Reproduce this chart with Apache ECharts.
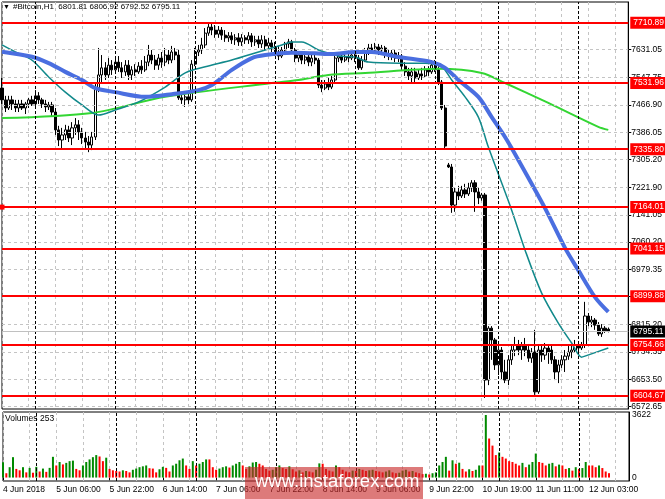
<!DOCTYPE html>
<html><head><meta charset="utf-8">
<script src="https://cdn.jsdelivr.net/npm/echarts@6/dist/echarts.min.js"></script>
<style>html,body{margin:0;padding:0;background:#fff}#c{width:665px;height:499px}</style>
</head><body><div id="c"></div>
<script>
const symbolName = '#Bitcoin,H1';
const barCount = 189;
const timeLabels = ['4 Jun 2018','5 Jun 06:00','5 Jun 22:00','6 Jun 14:00','7 Jun 06:00','7 Jun 22:00','8 Jun 14:00','9 Jun 06:00','9 Jun 22:00','10 Jun 19:00','11 Jun 11:00','12 Jun 03:00'];
const labelBars = [0,16,32,48,64,80,96,112,128,144,160,176];
const daySeparators = [10,34,58,82,106,130,149,173];
const priceTicks = [7631.05,7547.75,7466.90,7386.05,7305.20,7221.90,7141.05,7060.20,6979.35,6898.50,6815.20,6734.35,6653.50,6572.65];
const levels = [7710.89,7531.96,7335.80,7164.01,7041.15,6899.88,6754.66,6604.67];
const selectedLevel = 7164.01;
// [open, close, low, high]
const ohlc = [
[7517,7482,7470,7547],[7482,7458,7446,7494],[7458,7482,7452,7494],[7482,7470,7452,7494],[7470,7458,7446,7482],
[7458,7470,7446,7482],[7470,7458,7452,7482],[7458,7470,7440,7476],[7470,7482,7458,7488],[7482,7470,7464,7494],
[7470,7494,7464,7511],[7494,7482,7470,7505],[7482,7470,7458,7488],[7470,7461,7446,7482],[7461,7467,7452,7476],
[7467,7446,7434,7476],[7446,7393,7378,7458],[7393,7363,7345,7405],[7363,7378,7339,7399],[7378,7393,7363,7408],
[7393,7369,7357,7405],[7369,7399,7348,7416],[7399,7408,7378,7428],[7408,7387,7363,7422],[7387,7369,7351,7399],
[7369,7357,7339,7387],[7357,7348,7327,7375],[7348,7372,7333,7387],[7372,7517,7363,7529],[7517,7556,7505,7636],
[7556,7577,7535,7615],[7577,7556,7541,7594],[7556,7585,7547,7606],[7585,7571,7556,7600],[7571,7594,7559,7606],
[7594,7577,7565,7612],[7577,7565,7547,7594],[7565,7585,7553,7600],[7585,7556,7541,7600],[7556,7571,7541,7582],
[7571,7565,7553,7588],[7565,7582,7559,7594],[7582,7571,7559,7600],[7571,7594,7565,7612],[7594,7615,7582,7645],
[7615,7600,7588,7630],[7600,7585,7571,7615],[7585,7606,7571,7618],[7606,7594,7577,7624],[7594,7615,7582,7636],
[7615,7600,7588,7630],[7600,7624,7591,7642],[7624,7615,7600,7636],[7615,7488,7482,7630],[7488,7482,7470,7499],
[7482,7491,7461,7499],[7491,7482,7470,7505],[7482,7588,7476,7600],[7588,7624,7582,7636],[7624,7630,7612,7645],
[7630,7645,7618,7666],[7645,7680,7636,7695],[7680,7698,7672,7713],[7698,7689,7674,7710],[7689,7677,7666,7704],
[7677,7689,7666,7701],[7689,7674,7660,7698],[7674,7666,7654,7689],[7666,7672,7654,7683],[7672,7660,7648,7683],
[7660,7666,7645,7677],[7666,7654,7642,7680],[7654,7666,7642,7677],[7666,7660,7648,7674],[7660,7672,7648,7683],
[7672,7654,7639,7680],[7654,7660,7642,7672],[7660,7648,7636,7672],[7648,7660,7636,7674],[7660,7642,7630,7672],
[7642,7651,7630,7666],[7651,7639,7624,7660],[7639,7624,7612,7654],[7624,7612,7600,7642],[7612,7630,7606,7639],
[7630,7648,7618,7654],[7648,7654,7636,7663],[7654,7630,7618,7660],[7630,7606,7594,7636],[7606,7615,7594,7624],
[7615,7600,7588,7624],[7600,7609,7588,7621],[7609,7594,7582,7618],[7594,7606,7582,7618],[7606,7600,7588,7618],
[7600,7526,7517,7606],[7526,7517,7505,7541],[7517,7529,7511,7541],[7529,7520,7511,7547],[7520,7541,7514,7553],
[7541,7606,7535,7621],[7606,7612,7594,7624],[7612,7600,7591,7624],[7600,7609,7594,7621],[7609,7606,7594,7618],
[7606,7615,7600,7624],[7615,7606,7594,7624],[7606,7577,7571,7615],[7577,7600,7571,7612],[7600,7624,7594,7636],
[7624,7636,7615,7648],[7636,7630,7618,7648],[7630,7639,7621,7651],[7639,7630,7615,7648],[7630,7636,7618,7645],
[7636,7618,7606,7642],[7618,7612,7600,7630],[7612,7621,7600,7630],[7621,7606,7594,7630],[7606,7612,7594,7624],
[7612,7582,7571,7618],[7582,7565,7553,7594],[7565,7553,7541,7577],[7553,7565,7535,7577],[7565,7547,7535,7577],
[7547,7559,7541,7571],[7559,7553,7541,7577],[7553,7571,7547,7582],[7571,7565,7553,7582],[7565,7585,7559,7600],
[7585,7571,7565,7600],[7571,7535,7526,7582],[7535,7458,7452,7541],[7458,7345,7339,7467],[7289,7283,7280,7295],
[7283,7170,7147,7292],[7170,7209,7150,7221],[7209,7197,7185,7227],[7197,7215,7191,7227],[7215,7203,7191,7233],
[7203,7221,7197,7236],[7221,7236,7209,7244],[7236,7209,7150,7244],[7209,7191,7173,7221],[7191,7200,7183,7206],
[7200,6651,6598,7206],[6651,6805,6636,6811],[6805,6770,6711,6811],[6770,6696,6681,6776],[6696,6740,6666,6755],
[6740,6675,6651,6749],[6675,6651,6642,6711],[6651,6711,6636,6725],[6711,6740,6696,6755],[6740,6755,6722,6779],
[6755,6740,6725,6770],[6740,6752,6711,6764],[6752,6740,6722,6776],[6740,6716,6705,6755],[6716,6734,6702,6746],
[6734,6616,6607,6800],[6616,6740,6610,6755],[6740,6725,6705,6755],[6725,6746,6711,6761],[6746,6734,6699,6758],
[6740,6711,6699,6752],[6711,6675,6651,6722],[6675,6696,6642,6711],[6696,6711,6687,6725],[6711,6722,6675,6740],
[6722,6734,6711,6755],[6734,6740,6716,6758],[6740,6755,6734,6770],[6755,6746,6734,6761],[6746,6755,6740,6764],
[6755,6841,6746,6883],[6841,6823,6811,6850],[6823,6829,6808,6841],[6829,6814,6800,6835],[6814,6788,6782,6823],
[6788,6805,6779,6817],[6805,6797,6791,6811],[6801.81,6795.11,6792.52,6806.92]
];
const volumes = [
880,250,600,1180,500,420,600,300,560,280,620,350,520,330,560,1200,
700,900,760,850,950,980,500,420,700,900,1050,1180,1300,1220,950,1150,
500,420,380,350,420,380,300,450,520,600,650,700,540,520,300,480,
620,560,350,700,800,1000,1100,700,500,950,700,800,900,1050,1050,600,
450,520,600,650,580,700,800,900,700,500,650,870,900,800,700,500,
400,450,600,700,550,500,650,480,350,420,300,380,350,300,450,820,
800,500,400,350,700,600,450,350,300,400,380,500,450,380,420,450,
380,350,300,350,420,300,250,280,400,450,350,380,300,250,200,220,
180,250,300,700,900,1200,400,1000,800,860,500,350,480,380,450,700,
700,3622,2260,1850,1300,1450,1200,1100,950,900,800,700,850,600,750,900,
1390,900,850,700,800,850,650,750,700,500,550,400,600,500,550,900,
700,700,600,700,550,350,253
];
const maBlue = [[0,7625],[9,7610],[14,7591],[19,7565],[24,7541],[28,7517],[34,7505],[43,7491],[51,7499],[59,7511],[63,7526],[69,7571],[75,7606],[79,7615],[87,7622],[94,7620],[99,7618],[106,7624],[111,7624],[119,7609],[129,7594],[133,7577],[137,7541],[143,7491],[147,7431],[151,7372],[155,7304],[163,7161],[169,7043],[173,6977],[178,6897],[182,6853]];
const maTeal = [[0,7645],[4,7624],[9,7600],[14,7550],[19,7505],[24,7467],[29,7437],[34,7452],[41,7476],[49,7520],[55,7562],[61,7580],[69,7600],[77,7624],[84,7645],[87,7654],[90,7654],[95,7630],[98,7621],[101,7612],[106,7609],[110,7594],[119,7591],[127,7591],[132,7580],[135,7541],[139,7491],[143,7431],[146,7342],[153,7155],[157,7037],[162,6909],[167,6820],[171,6761],[174,6719],[175,6722],[182,6746]];
const maGreen = [[0,7428],[27,7443],[49,7491],[81,7532],[89,7541],[98,7556],[109,7562],[131,7574],[144,7562],[151,7532],[164,7473],[179,7402],[182,7393]];

const F = '"Liberation Sans", Arial, sans-serif';
const cats = Array.from({length: barCount}, (_, i) => String(i));
const labelMap = {};
labelBars.forEach((b, k) => { labelMap[b] = timeLabels[k]; });
const last = ohlc[ohlc.length - 1];
const lastClose = last[1];
const maxVol = Math.max(...volumes);
const volData = volumes.map((v, i) => ({
  value: v,
  itemStyle: { color: (i === 0 || v > volumes[i - 1]) ? '#008a00' : '#ff0000' }
}));

const gridSplit = { show: true, interval: (i) => i % 8 === 0, lineStyle: { color: '#c4c4c4', type: [3, 3], width: 1 } };

const levelItems = levels.map(v => {
  const it = { yAxis: v };
  if (v === selectedLevel) { it.symbol = ['emptyRect', 'emptyRect']; it.symbolSize = 5; }
  return it;
});

const chart = echarts.init(document.getElementById('c'));
chart.setOption({
  animation: false,
  backgroundColor: '#ffffff',
  grid: [
    { left: 2, right: 36, top: 2, height: 407, show: true, borderColor: '#000', borderWidth: 1, backgroundColor: 'transparent' },
    { left: 2, right: 36, top: 412, height: 69, show: true, borderColor: '#000', borderWidth: 1, backgroundColor: 'transparent' }
  ],
  xAxis: [
    { type: 'category', gridIndex: 0, data: cats, boundaryGap: false,
      axisLine: { show: false }, axisTick: { show: false }, axisLabel: { show: false }, splitLine: gridSplit },
    { type: 'category', gridIndex: 1, data: cats, boundaryGap: false,
      axisLine: { show: false },
      axisTick: { show: true, interval: (i) => labelMap[i] !== undefined, length: 3, lineStyle: { color: '#000' } },
      axisLabel: { show: true, interval: (i) => labelMap[i] !== undefined, formatter: (v, i) => labelMap[i] || '',
        align: 'left', margin: 4, fontSize: 8.5, color: '#000', fontFamily: F, hideOverlap: false },
      splitLine: gridSplit }
  ],
  yAxis: [
    { type: 'value', gridIndex: 0, position: 'right', min: 6565.2, max: 7772.3,
      axisLine: { show: true, lineStyle: { color: '#000' } },
      axisTick: { show: true, customValues: priceTicks, length: 3, lineStyle: { color: '#000' } },
      axisLabel: { show: true, customValues: priceTicks, formatter: v => v.toFixed(2), fontSize: 8.5, color: '#000', margin: 3, fontFamily: F },
      splitLine: { show: false } },
    { type: 'value', gridIndex: 1, position: 'right', min: -200, max: 3796,
      axisLine: { show: true, lineStyle: { color: '#000' } },
      axisTick: { show: false, customValues: [0, maxVol] },
      axisLabel: { show: true, customValues: [0, maxVol], formatter: v => String(Math.round(v)), fontSize: 8.5, color: '#000', margin: 3, fontFamily: F },
      splitLine: { show: false } }
  ],
  series: [
    { type: 'line', xAxisIndex: 0, yAxisIndex: 0, data: [], z: 1, silent: true,
      markLine: { silent: true, symbol: 'none', animation: false,
        lineStyle: { color: '#c4c4c4', type: [3, 3], width: 1 }, label: { show: false },
        data: priceTicks.map(v => ({ yAxis: v })) } },
    { type: 'line', xAxisIndex: 0, yAxisIndex: 0, data: [], z: 1, silent: true,
      markLine: { silent: true, symbol: 'none', animation: false,
        lineStyle: { color: '#000', type: [3, 2], width: 1 }, label: { show: false },
        data: daySeparators.map(b => ({ xAxis: String(b) })) } },
    { type: 'line', xAxisIndex: 1, yAxisIndex: 1, data: [], z: 1, silent: true,
      markLine: { silent: true, symbol: 'none', animation: false,
        lineStyle: { color: '#000', type: [3, 2], width: 1 }, label: { show: false },
        data: daySeparators.map(b => ({ xAxis: String(b) })) } },
    { type: 'line', xAxisIndex: 0, yAxisIndex: 0, data: [], z: 1, silent: true,
      markLine: { silent: true, symbol: 'none', animation: false,
        lineStyle: { color: '#c0c0c0', type: 'solid', width: 1 },
        label: { show: true, position: 'end', distance: 2, formatter: p => p.value.toFixed(2),
          backgroundColor: '#000', color: '#fff', padding: [2, 3, 1, 3], fontSize: 8.5, fontFamily: F },
        data: [{ yAxis: lastClose }] } },
    { type: 'candlestick', xAxisIndex: 0, yAxisIndex: 0, data: ohlc, barWidth: 2.6, z: 2,
      itemStyle: { color: '#ffffff', color0: '#000000', borderColor: '#000000', borderColor0: '#000000', borderWidth: 1 } },
    { type: 'line', xAxisIndex: 0, yAxisIndex: 0, data: maGreen, smooth: 0.3, symbol: 'none', z: 3,
      lineStyle: { color: '#33d633', width: 2 } },
    { type: 'line', xAxisIndex: 0, yAxisIndex: 0, data: maTeal, smooth: 0.3, symbol: 'none', z: 3,
      lineStyle: { color: '#11898b', width: 1.5 } },
    { type: 'line', xAxisIndex: 0, yAxisIndex: 0, data: maBlue, smooth: 0.3, symbol: 'none', z: 3,
      lineStyle: { color: '#4a6ee0', width: 4 } },
    { type: 'line', xAxisIndex: 0, yAxisIndex: 0, data: [], z: 4, silent: true,
      markLine: { silent: true, symbol: 'none', symbolSize: 5, animation: false,
        lineStyle: { color: '#ff0000', type: 'solid', width: 2 },
        label: { show: true, position: 'end', distance: 2, formatter: p => p.value.toFixed(2),
          backgroundColor: '#ff0000', color: '#fff', padding: [2, 3, 1, 3], fontSize: 8.5, fontFamily: F },
        data: levelItems } },
    { type: 'bar', xAxisIndex: 1, yAxisIndex: 1, data: volData, barWidth: 2, z: 2 }
  ],
  graphic: [
    { type: 'text', left: 3, top: 4, z: 10, style: { text: '▼', fontSize: 7, fill: '#000', fontFamily: F } },
    { type: 'text', left: 13, top: 3, z: 10, style: { text: symbolName + '  ' + [last[0], last[3], last[2], last[1]].map(v => v.toFixed(2)).join(' '), fontSize: 8, fill: '#000', fontFamily: F } },
    { type: 'text', left: 5, top: 414, z: 10, style: { text: 'Volumes ' + volumes[volumes.length - 1], fontSize: 8.5, fill: '#000', fontFamily: F } },
    { type: 'rect', z: 20, shape: { x: 245, y: 467, width: 178, height: 32 }, style: { fill: 'rgba(200,40,40,0.62)' } },
    { type: 'text', z: 21, left: 255, top: 472, style: { text: 'www.instaforex.com', fontSize: 18.5, fill: '#ffffff', fontFamily: F } }
  ]
});
</script>
</body></html>
